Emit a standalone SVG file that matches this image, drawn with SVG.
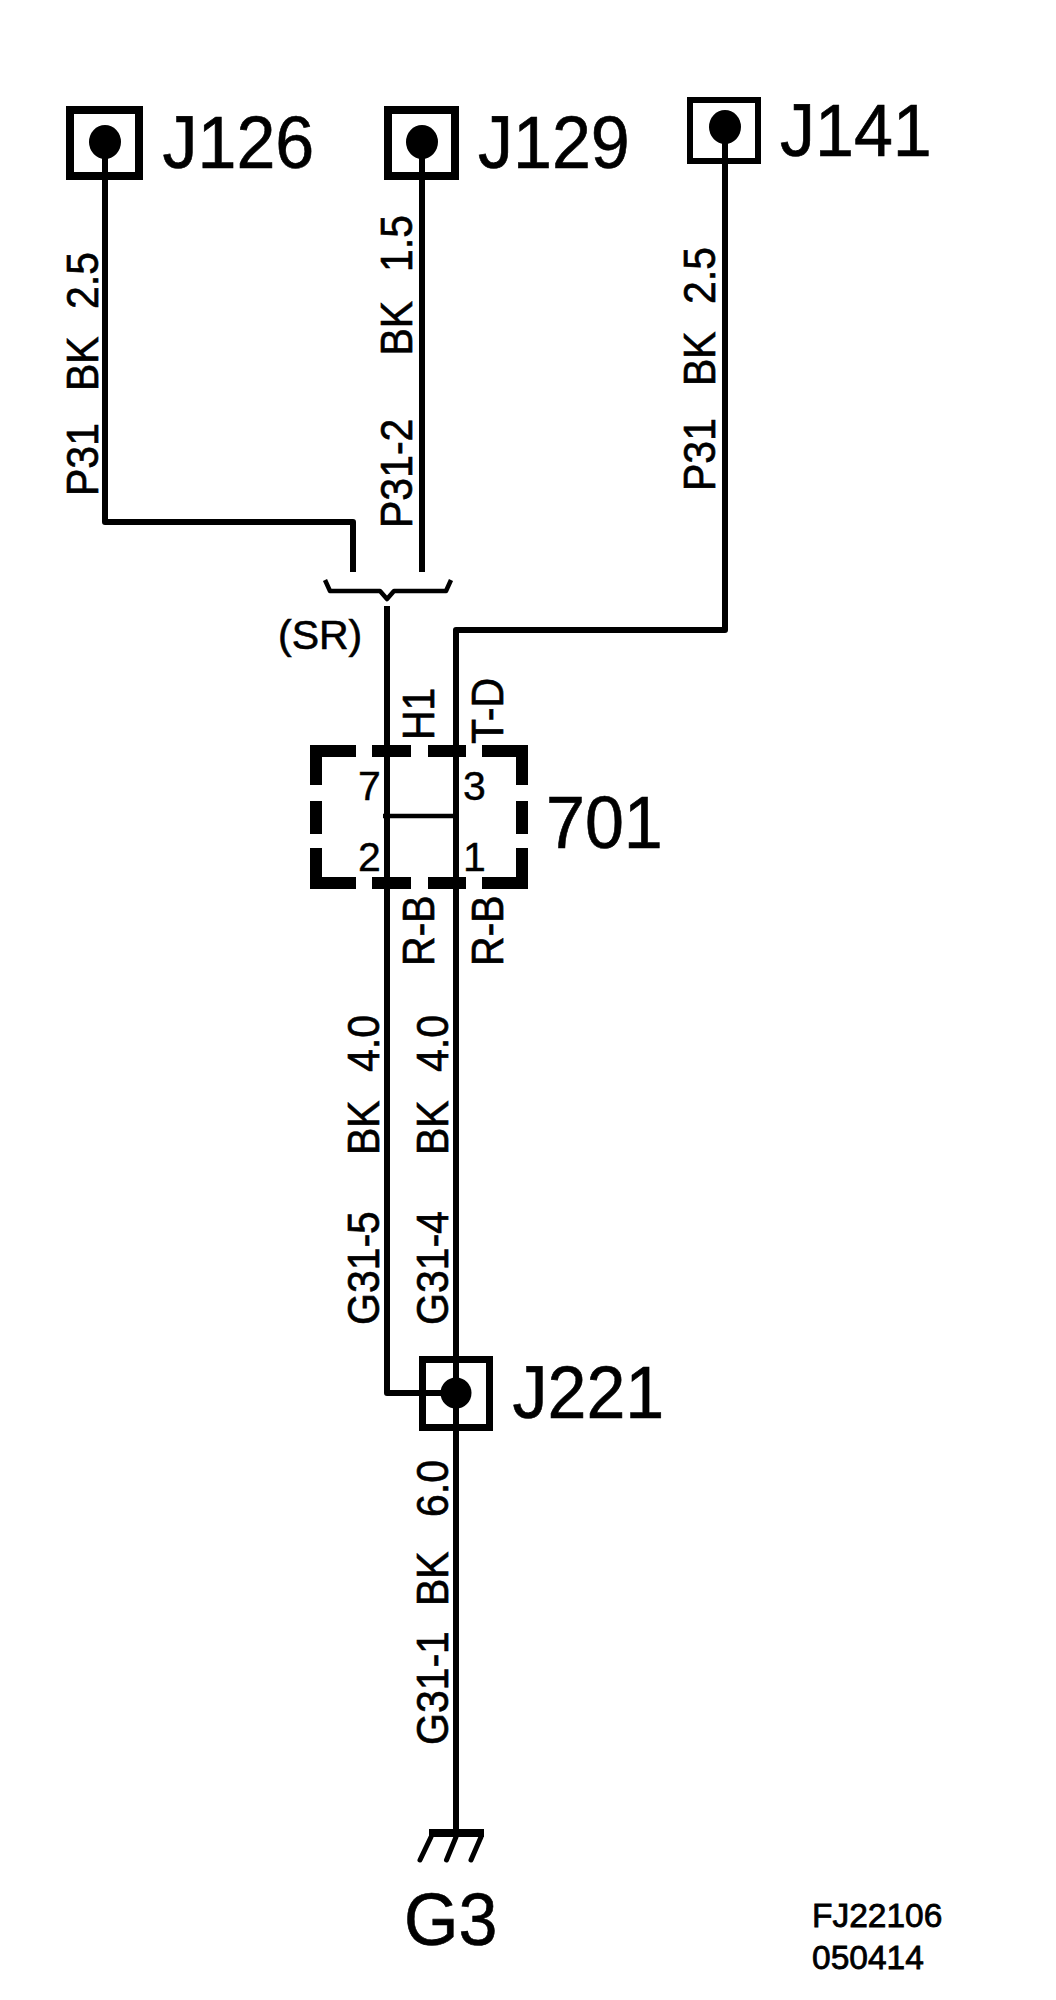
<svg xmlns="http://www.w3.org/2000/svg" width="1056" height="2000" viewBox="0 0 1056 2000">
<style>
text{font-family:"Liberation Sans",Arial,sans-serif;fill:#000;stroke:#000}
.big{font-size:70px;stroke-width:.6px}
.lab{font-size:41px;stroke-width:.6px}
.pin{font-size:41px;stroke-width:.4px}
.note{font-size:33.500px;stroke-width:.8px}
.w{fill:none;stroke:#000;stroke-width:6;stroke-linejoin:round}
.box{fill:none;stroke:#000;stroke-width:7}
.dash{fill:#000}
</style>
<rect width="1056" height="2000" fill="#fff"/>
<g id="connectors">
<path class="w" d="M105 142V522H353V572"/>
<path class="w" d="M422 142V572"/>
<path class="w" d="M725 127V630H456V1393"/>
<path class="w" d="M387 606V1393H456"/>
<path class="w" d="M456 1393V1832"/>
<path class="w" style="stroke-width:4.5" d="M383 816H456"/>
<path class="w" style="stroke-width:4.5" d="M325 580L330 591H380L387 599L394 591H446L451 580"/>
</g>
<g id="J126"><rect class="box" style="stroke-width:8" x="70" y="110" width="69" height="66"/><ellipse cx="105" cy="142" rx="16" ry="17"/><text class="big" transform="translate(162.500 168) scale(1 1.06)">J126</text></g>
<g id="J129"><rect class="box" style="stroke-width:8" x="388" y="110" width="67" height="66"/><ellipse cx="422" cy="142" rx="16" ry="17"/><text class="big" transform="translate(478 168) scale(1 1.06)">J129</text></g>
<g id="J141"><rect class="box" style="stroke-width:6" x="690" y="100" width="68" height="61"/><ellipse cx="725" cy="127" rx="16" ry="17"/><text class="big" transform="translate(780 156) scale(1 1.06)">J141</text></g>
<g id="J221"><rect class="box" x="422.500" y="1359.500" width="67" height="68"/><circle cx="456" cy="1393" r="15.500"/><text class="big" transform="translate(512.500 1418) scale(1 1.06)">J221</text></g>
<g id="connector-701">
<path class="dash" d="M310 745H356V757H322V785H310ZM372 745H411V757H372ZM428 745H466V757H428ZM482 745H528V785H516V757H482ZM310 801H322V834H310ZM516 801H528V834H516ZM310 848H322V877H356V889H310ZM372 877H411V889H372ZM428 877H466V889H428ZM516 848H528V889H482V877H516Z"/>
<text class="big" transform="translate(546 848) scale(1 1.06)">701</text>
<text class="pin" x="358" y="800">7</text><text class="pin" x="463" y="800">3</text><text class="pin" x="358" y="871">2</text><text class="pin" x="463" y="871">1</text>
</g>
<g id="ground-G3">
<path class="dash" d="M429 1829H484V1837H429Z"/>
<path class="w" style="stroke-width:5;stroke-linecap:round" d="M431 1837L420 1860M456 1837L446.500 1860M481 1837L471 1860"/>
<text class="big" transform="translate(404 1945) scale(1 1.06)">G3</text>
</g>
<g id="labels">
<text class="lab" transform="translate(98 496) rotate(-90) scale(1 1.08)"><tspan x="0">P31</tspan><tspan x="105">BK</tspan><tspan x="187">2.5</tspan></text>
<text class="lab" transform="translate(412 528) rotate(-90) scale(1 1.08)"><tspan x="0">P31-2</tspan><tspan x="172.500">BK</tspan><tspan x="256">1.5</tspan></text>
<text class="lab" transform="translate(715 491) rotate(-90) scale(1 1.08)"><tspan x="0">P31</tspan><tspan x="105">BK</tspan><tspan x="187">2.5</tspan></text>
<text class="lab" transform="translate(434 740) rotate(-90) scale(1 1.08)">H1</text>
<text class="lab" transform="translate(503 744) rotate(-90) scale(1 1.08)">T-D</text>
<text class="lab" transform="translate(434 966) rotate(-90) scale(1 1.08)">R-B</text>
<text class="lab" transform="translate(503 966) rotate(-90) scale(1 1.08)">R-B</text>
<text class="lab" transform="translate(379 1325) rotate(-90) scale(1 1.08)"><tspan x="0">G31-5</tspan><tspan x="170">BK</tspan><tspan x="253">4.0</tspan></text>
<text class="lab" transform="translate(447.500 1325) rotate(-90) scale(1 1.08)"><tspan x="0">G31-4</tspan><tspan x="170">BK</tspan><tspan x="253">4.0</tspan></text>
<text class="lab" transform="translate(447.500 1745) rotate(-90) scale(1 1.08)"><tspan x="0">G31-1</tspan><tspan x="139">BK</tspan><tspan x="228">6.0</tspan></text>
<text class="lab" x="278" y="649">(SR)</text>
<text class="note" x="812" y="1927">FJ22106</text>
<text class="note" x="812" y="1969">050414</text>
</g>
</svg>
